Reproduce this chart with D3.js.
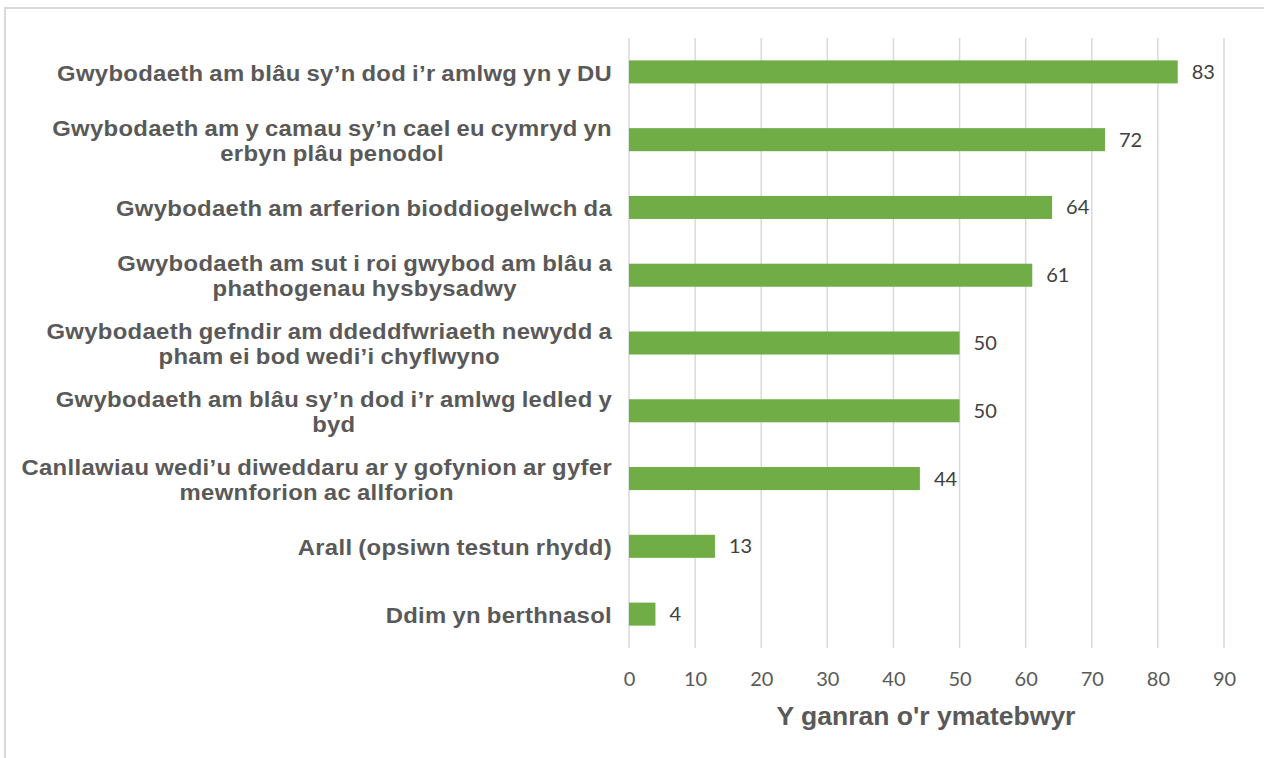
<!DOCTYPE html>
<html>
<head>
<meta charset="utf-8">
<title>Y ganran o'r ymatebwyr</title>
<script src="https://d3js.org/d3.v7.min.js"></script>
<style>
  body { margin: 0; background: #fff; }
</style>
</head>
<body>
<svg width="1264" height="758"></svg>
<script>
    const categories = [
        "Gwybodaeth am blâu sy’n dod i’r amlwg yn y DU",
        "Gwybodaeth am y camau sy’n cael eu cymryd yn\nerbyn plâu penodol",
        "Gwybodaeth am arferion bioddiogelwch da",
        "Gwybodaeth am sut i roi gwybod am blâu a\nphathogenau hysbysadwy",
        "Gwybodaeth gefndir am ddeddfwriaeth newydd a\npham ei bod wedi’i chyflwyno",
        "Gwybodaeth am blâu sy’n dod i’r amlwg ledled y\nbyd",
        "Canllawiau wedi’u diweddaru ar y gofynion ar gyfer\nmewnforion ac allforion",
        "Arall (opsiwn testun rhydd)",
        "Ddim yn berthnasol"
    ];
    const values = [83, 72, 64, 61, 50, 50, 44, 13, 4];
    const xTicks = [0, 10, 20, 30, 40, 50, 60, 70, 80, 90];
    const xTitle = "Y ganran o'r ymatebwyr";

    const width = 1264;
    const height = 758;
    const margin = {top: 38, right: 40, bottom: 110, left: 629};

    const svg = d3.select("svg")
        .attr("width", width)
        .attr("height", height);

    // outer chart border
    svg.append("rect")
        .attr("x", 5).attr("y", 8)
        .attr("width", width + 20).attr("height", height + 20)
        .attr("fill", "none")
        .attr("stroke", "#d9d9d9")
        .attr("stroke-width", 2);

    const x = d3.scaleLinear()
        .domain([0, 90])
        .range([margin.left, 1224]);

    const y = d3.scaleBand()
        .domain(categories)
        .range([margin.top, height - margin.bottom])
        .paddingInner(0.66)
        .paddingOuter(0.33);

    // gridlines
    svg.append("g")
        .selectAll("line")
        .data(xTicks)
        .enter().append("line")
        .attr("x1", d => x(d)).attr("x2", d => x(d))
        .attr("y1", margin.top).attr("y2", height - margin.bottom)
        .attr("stroke", "#d9d9d9")
        .attr("stroke-width", 1.5);

    // x axis tick labels
    const xAxis = d3.axisBottom(x)
        .tickValues(xTicks)
        .tickSize(0)
        .tickPadding(24);

    const gx = svg.append("g")
        .attr("transform", "translate(0," + (height - margin.bottom) + ")")
        .call(xAxis);
    gx.select(".domain").remove();
    gx.selectAll("text")
        .attr("fill", "#595959")
        .style("font-family", "Lato, 'Open Sans', sans-serif")
        .style("font-size", "20px");

    // bars
    svg.append("g")
        .selectAll("rect")
        .data(values)
        .enter().append("rect")
        .attr("x", x(0))
        .attr("y", (d, i) => y(categories[i]))
        .attr("width", d => x(d) - x(0))
        .attr("height", y.bandwidth())
        .attr("fill", "#70ad47");

    // data labels
    svg.append("g")
        .selectAll("text")
        .data(values)
        .enter().append("text")
        .attr("x", d => x(d) + 14)
        .attr("y", (d, i) => y(categories[i]) + y.bandwidth() / 2)
        .attr("dy", "0.35em")
        .attr("fill", "#404040")
        .style("font-family", "Lato, 'Open Sans', sans-serif")
        .style("font-size", "20px")
        .text(d => d);

    // category labels: lines centred on each other, block right-aligned,
    // glyphs stretched a little horizontally like the original
    const labelRight = 612;
    const lineH = 25;
    const stretch = 1.085;
    const labels = svg.append("g")
        .selectAll("g")
        .data(categories)
        .enter().append("g")
        .attr("transform", d => "translate(" + labelRight + "," + (y(d) + y.bandwidth() / 2 + 1) + ") scale(" + stretch + ",1)")
        .append("text")
        .attr("fill", "#595959")
        .style("font-family", "'Liberation Sans', Arial, sans-serif")
        .style("font-weight", "bold")
        .style("font-size", "22px")
        .style("letter-spacing", "0.3px")
        .style("word-spacing", "-1px")
        .attr("text-anchor", "middle");

    labels.each(function(d) {
        const t = d3.select(this);
        const lines = d.split("\n");
        const spans = lines.map((ln, k) => t.append("tspan")
            .attr("y", (k - (lines.length - 1) / 2) * lineH)
            .attr("dy", "0.35em")
            .text(ln));
        const maxW = d3.max(spans, s => s.node().getComputedTextLength());
        spans.forEach(s => s.attr("x", -maxW / 2));
    });

    // axis title
    svg.append("text")
        .attr("x", 926)
        .attr("y", 725)
        .attr("text-anchor", "middle")
        .attr("fill", "#595959")
        .style("font-family", "'Liberation Sans', Arial, sans-serif")
        .style("font-weight", "bold")
        .style("font-size", "26.5px")
        .text(xTitle);
</script>
</body>
</html>
